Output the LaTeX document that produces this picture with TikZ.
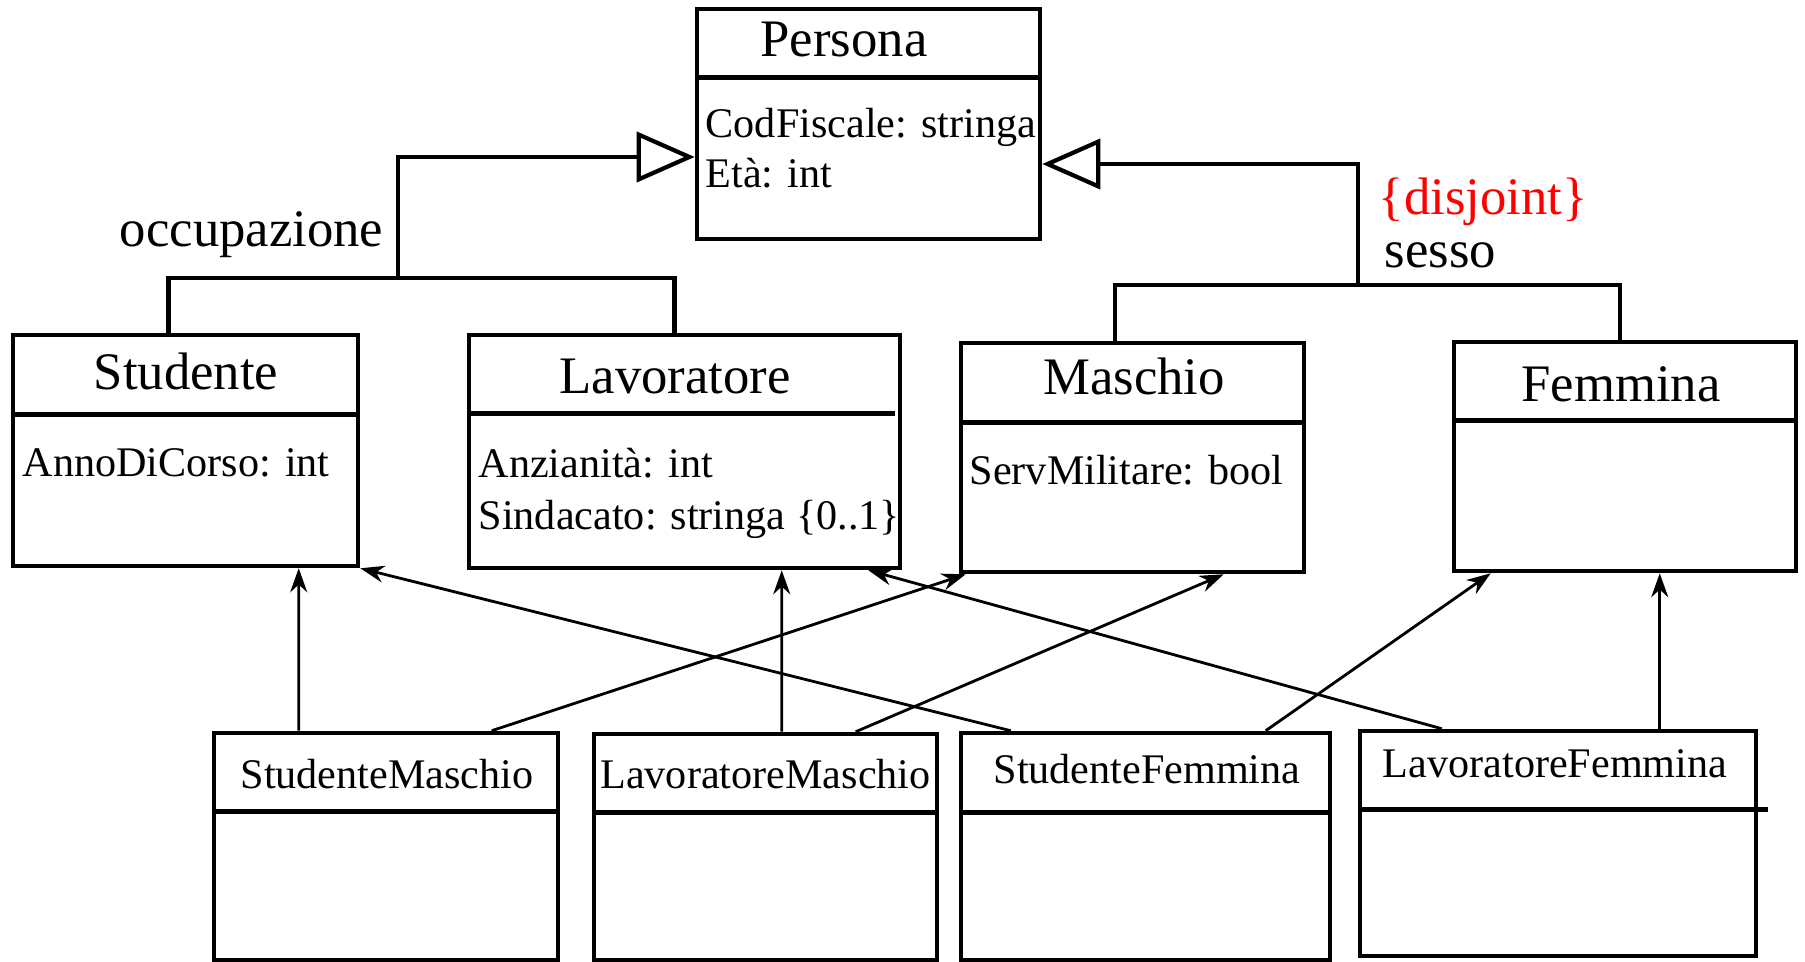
\documentclass[tikz,border=0pt]{standalone}
\usepackage{fontspec}
\setmainfont{Liberation Serif}
\usetikzlibrary{arrows.meta}
\definecolor{cRed}{RGB}{255,0,0}

\tikzset{
  cls/.style={draw, line width=1.3pt, inner sep=0pt},
  sepline/.style={line width=1.3pt},
  titletxt/.style={font=\fontsize{15}{18}\selectfont, inner sep=0pt, anchor=base},
  attrtxt/.style={font=\fontsize{12}{14}\selectfont, inner sep=0pt, anchor=base west},
  gen/.style={line width=1.2pt},
  isa/.style={line width=0.8pt, -{Stealth[length=2.4mm, width=1.7mm]}}
}

\begin{document}
\begin{tikzpicture}
    \useasboundingbox (0,0) rectangle (18.05,-9.62);
    % Persona
    \node[cls, minimum width=3.43cm, minimum height=2.30cm] (persona) at (8.685,-1.24) {};
    \draw[sepline] ([yshift=-0.71cm]persona.north west) -- ([yshift=-0.71cm]persona.north east);
    \node[titletxt] (persona-t) at (8.44,-0.567) {Persona};
    \node[attrtxt] (persona-a1) at (7.05,-1.38) {CodFiscale: stringa};
    \node[attrtxt] (persona-a2) at (7.05,-1.88) {Età: int};
    % Studente, Lavoratore
    \node[cls, minimum width=3.45cm, minimum height=2.31cm] (studente) at (1.855,-4.505) {};
    \draw[sepline] ([yshift=-0.82cm]studente.north west) -- ([yshift=-0.82cm]studente.north east);
    \node[titletxt] (studente-t) at (1.86,-3.90) {Studente};
    \node[attrtxt] (studente-a1) at (0.22,-4.77) {AnnoDiCorso: int};
    \node[cls, minimum width=4.31cm, minimum height=2.33cm] (lavoratore) at (6.845,-4.515) {};
    \draw[sepline] ([yshift=-0.81cm]lavoratore.north west) -- ([xshift=-0.07cm,yshift=-0.81cm]lavoratore.north east);
    \node[titletxt] (lavoratore-t) at (6.75,-3.94) {Lavoratore};
    \node[attrtxt] (lavoratore-a1) at (4.78,-4.78) {Anzianità: int};
    \node[attrtxt] (lavoratore-a2) at (4.78,-5.30) {Sindacato: stringa \{0..1\}};
    % Maschio, Femmina
    \node[cls, minimum width=3.43cm, minimum height=2.29cm] (maschio) at (11.325,-4.575) {};
    \draw[sepline] ([yshift=-0.82cm]maschio.north west) -- ([yshift=-0.82cm]maschio.north east);
    \node[titletxt] (maschio-t) at (11.34,-3.95) {Maschio};
    \node[attrtxt] (maschio-a1) at (9.69,-4.85) {ServMilitare: bool};
    \node[cls, minimum width=3.42cm, minimum height=2.29cm] (femmina) at (16.25,-4.565) {};
    \draw[sepline] ([yshift=-0.81cm]femmina.north west) -- ([yshift=-0.81cm]femmina.north east);
    \node[titletxt] (femmina-t) at (16.21,-4.02) {Femmina};
    % Bottom row
    \node[cls, minimum width=3.44cm, minimum height=2.27cm] (stmas) at (3.86,-8.465) {};
    \draw[sepline] ([yshift=-0.81cm]stmas.north west) -- ([yshift=-0.81cm]stmas.north east);
    \node[attrtxt, anchor=base] (stmas-t) at (3.87,-7.88) {StudenteMaschio};
    \node[cls, minimum width=3.43cm, minimum height=2.26cm] (lavmas) at (7.655,-8.47) {};
    \draw[sepline] ([yshift=-0.81cm]lavmas.north west) -- ([yshift=-0.81cm]lavmas.north east);
    \node[attrtxt, anchor=base] (lavmas-t) at (7.655,-7.88) {LavoratoreMaschio};
    \node[cls, minimum width=3.69cm, minimum height=2.27cm] (stfem) at (11.455,-8.465) {};
    \draw[sepline] ([yshift=-0.82cm]stfem.north west) -- ([yshift=-0.82cm]stfem.north east);
    \node[attrtxt, anchor=base] (stfem-t) at (11.47,-7.83) {StudenteFemmina};
    \node[cls, minimum width=3.96cm, minimum height=2.25cm] (lavfem) at (15.58,-8.435) {};
    \draw[sepline] ([yshift=-0.81cm]lavfem.north west) -- ([xshift=0.10cm,yshift=-0.81cm]lavfem.north east);
    \node[attrtxt, anchor=base] (lavfem-t) at (15.55,-7.77) {LavoratoreFemmina};
    % Generalization occupazione
    \coordinate (occ) at (3.98,-2.78);
    \draw[gen] ([xshift=-0.17cm]studente.north) |- (occ) -| ([xshift=-0.1cm]lavoratore.north);
    \draw[gen, -{Triangle[open, length=5.8mm, width=5mm]}] (occ) |- ([yshift=-0.33cm]persona.west);
    \node[titletxt, anchor=base east] (occ-l) at (3.84,-2.47) {occupazione};
    % Generalization sesso
    \coordinate (ses) at (13.58,-2.85);
    \draw[gen] ([xshift=-0.175cm]maschio.north) |- (ses) -| ([xshift=-0.05cm]femmina.north);
    \draw[gen, -{Triangle[open, length=5.8mm, width=5mm]}] (ses) |- ([yshift=-0.40cm]persona.east);
    \node[titletxt, anchor=base west, text=cRed] (dis-l) at (13.78,-2.15) {\{disjoint\}};
    \node[titletxt, anchor=base west] (ses-l) at (13.84,-2.68) {sesso};
    % Multiple inheritance
    \draw[isa] ([xshift=0.87cm]stmas.north west) -- ([xshift=2.88cm]studente.south west);
    \draw[isa] ([xshift=2.80cm]stmas.north west) -- ([xshift=0.07cm]maschio.south west);
    \draw[isa] ([xshift=1.90cm]lavmas.north west) -- ([xshift=3.15cm]lavoratore.south west);
    \draw[isa] ([xshift=2.64cm]lavmas.north west) -- ([xshift=2.65cm]maschio.south west);
    \draw[isa] ([xshift=0.52cm]stfem.north west) -- (studente.south east);
    \draw[isa] ([xshift=3.07cm]stfem.north west) -- ([xshift=0.39cm]femmina.south west);
    \draw[isa] ([xshift=0.84cm]lavfem.north west) -- ([xshift=-0.34cm]lavoratore.south east);
    \draw[isa] ([xshift=3.02cm]lavfem.north west) -- ([xshift=2.08cm]femmina.south west);
\end{tikzpicture}
\end{document}
